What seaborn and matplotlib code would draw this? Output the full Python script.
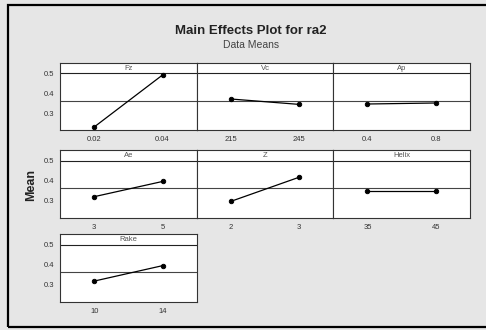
import matplotlib
matplotlib.use("Agg")
import matplotlib.pyplot as plt
import seaborn as sns
from matplotlib.patches import Rectangle

## Data
factors = ["Fz", "Vc", "Ap", "Ae", "Z", "Helix", "Rake"]
levels = {
    "Fz": ["0.02", "0.04"],
    "Vc": ["215", "245"],
    "Ap": ["0.4", "0.8"],
    "Ae": ["3", "5"],
    "Z": ["2", "3"],
    "Helix": ["35", "45"],
    "Rake": ["10", "14"],
}
means = {
    "Fz": [0.230, 0.490],
    "Vc": [0.370, 0.343],
    "Ap": [0.345, 0.350],
    "Ae": [0.320, 0.395],
    "Z": [0.297, 0.416],
    "Helix": [0.350, 0.350],
    "Rake": [0.318, 0.394],
}
grand_mean = 0.362
yticks = [0.3, 0.4, 0.5]

sns.set_style("white")
plt.rcParams['font.family'] = ['Liberation Sans', 'DejaVu Sans']

fig = plt.figure(figsize=(4.86, 3.30), dpi=100)
fig.patch.set_facecolor('#e6e6e6')

# scanned page frame
fig.patches.append(Rectangle((8/486, 3/330), 1.0, 322/330, transform=fig.transFigure,
                             fill=False, edgecolor='black', linewidth=1.6))

W, H = 486, 330
col_x = [60, 196.7, 333.3]
col_w = 136.7
rows = [(63, 130), (150, 218), (234, 302)]

for i, name in enumerate(factors):
    r, c = divmod(i, 3)
    top, bot = rows[r]
    ax = fig.add_axes([col_x[c]/W, 1 - bot/H, col_w/W, (bot - top)/H])
    ax.set_facecolor('white')

    ax.axhline(grand_mean, color='#444444', linewidth=0.8, zorder=1)
    sns.pointplot(x=levels[name], y=means[name], color='black', ax=ax,
                  markersize=3.2, linewidth=0.9, zorder=3)

    ax.set_ylim(0.215, 0.55)
    ax.set_xlim(-0.5, 1.5)
    # header strip border
    ax.plot([0, 1], [0.845, 0.845], transform=ax.transAxes, color='#222222', linewidth=0.8)
    ax.text(0.5, 0.925, name, transform=ax.transAxes, ha='center', va='center',
            fontsize=5.5, color='#555555')

    ax.set_xlabel('')
    ax.set_ylabel('')
    for s in ax.spines.values():
        s.set_color('#333333')
        s.set_linewidth(0.8)
    ax.tick_params(axis='x', length=2, width=0.6, labelsize=5.5, colors='#333333', pad=2)
    ax.set_yticks(yticks)
    if c == 0:
        ax.set_yticklabels([f"{v:.1f}" for v in yticks])
        ax.tick_params(axis='y', length=2, width=0.6, labelsize=5.5, colors='#333333', pad=2)
    else:
        ax.tick_params(axis='y', length=0, labelleft=False)

fig.text(251/W, 1 - 31/H, "Main Effects Plot for ra2", ha='center', va='center',
         fontsize=9.5, fontweight='bold', color='#222222')
fig.text(251/W, 1 - 45/H, "Data Means", ha='center', va='center',
         fontsize=7.5, color='#444444')
fig.text(31/W, 1 - 185/H, "Mean", ha='center', va='center', rotation=90,
         fontsize=9, fontweight='bold', color='#222222')

fig.savefig("out.png", dpi=100, facecolor=fig.get_facecolor())
